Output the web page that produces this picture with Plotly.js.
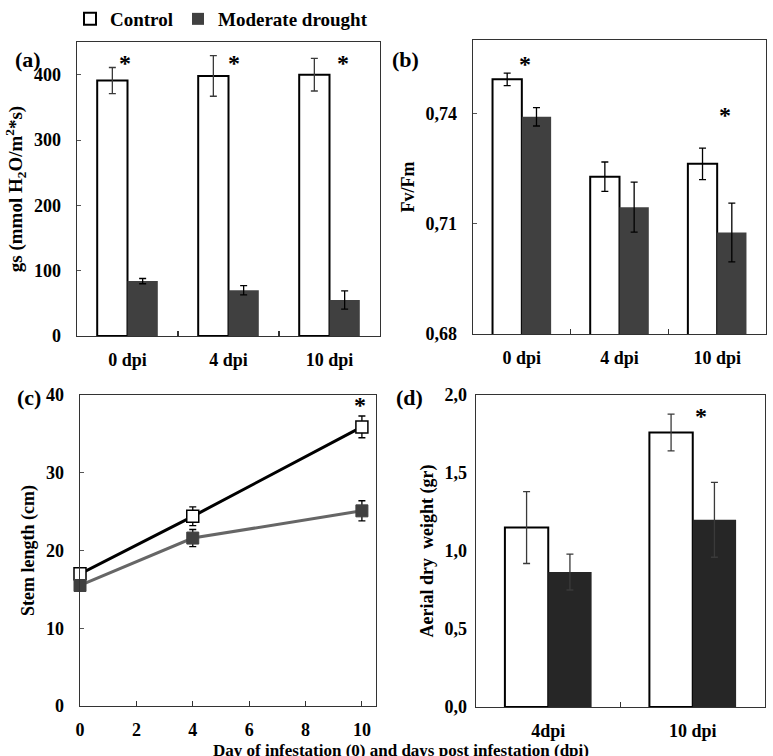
<!DOCTYPE html>
<html>
<head>
<meta charset="utf-8">
<script src="https://cdn.plot.ly/plotly-3.0.1.min.js"></script>
<style>html,body{margin:0;padding:0;background:#fff;}#chart{width:773px;height:756px;}</style>
</head>
<body>
<div id="chart"></div>
<script>
// ---- Data ----
const seriesNames = ['Control', 'Moderate drought'];

// (a) stomatal conductance
const catsA = ['0 dpi', '4 dpi', '10 dpi'];
const gsControl = [391, 398, 400];
const gsControlErr = [20, 31, 25];
const gsDrought = [84, 70, 55];
const gsDroughtErr = [4, 7, 14];
const starsAx = [-0.02, 1.05, 2.13];
const starsAy = [418, 418, 418];

// (b) Fv/Fm
const catsB = ['0 dpi', '4 dpi', '10 dpi'];
const fvControl = [0.7493, 0.7228, 0.7263];
const fvControlErr = [0.0017, 0.0040, 0.0043];
const fvDrought = [0.7391, 0.7145, 0.7076];
const fvDroughtErr = [0.0025, 0.0068, 0.0080];
const tickValsB = [0.68, 0.71, 0.74];
const tickTextB = ['0,68', '0,71', '0,74'];
const starsBx = [0.03, 2.08];
const starsBy = [0.7536, 0.7395];

// (c) stem length
const days = [0, 4, 10];
const stemControl = [17.0, 24.4, 35.9];
const stemControlErr = [0.5, 1.2, 1.4];
const stemDrought = [15.5, 21.6, 25.1];
const stemDroughtErr = [0.5, 1.1, 1.3];
const starsCx = [9.94];
const starsCy = [38.7];

// (d) aerial dry weight
const catsD = ['4dpi', '10 dpi'];
const dwControl = [1.15, 1.76];
const dwControlErr = [0.23, 0.118];
const dwDrought = [0.865, 1.20];
const dwDroughtErr = [0.115, 0.24];
const tickValsD = [0, 0.5, 1.0, 1.5, 2.0];
const tickTextD = ['0,0', '0,5', '1,0', '1,5', '2,0'];
const starsDx = [1.06];
const starsDy = [1.868];

// ---- Styles ----
const FONT = 'Liberation Serif, Times New Roman, serif';
const W = 773, H = 756;
const px = v => v / W;
const py = v => 1 - v / H;
const dark = '#404040';
const darker = '#262626';
const errCol = '#3a3a3a';

function errBar(arr, col) {
  return {type: 'data', array: arr, visible: true, color: col || errCol, thickness: 1.3, width: 3.5};
}

const traces = [
  // (a)
  {type: 'bar', x: catsA, y: gsControl, name: seriesNames[0], xaxis: 'x', yaxis: 'y',
   marker: {color: '#ffffff', line: {color: '#000', width: 2}}, error_y: errBar(gsControlErr), showlegend: true},
  {type: 'bar', x: catsA, y: gsDrought, name: seriesNames[1], xaxis: 'x', yaxis: 'y',
   marker: {color: dark, line: {color: dark, width: 0}}, error_y: errBar(gsDroughtErr, '#000'), showlegend: true},
  // (b)
  {type: 'bar', x: catsB, y: fvControl, name: seriesNames[0], xaxis: 'x2', yaxis: 'y2',
   marker: {color: '#ffffff', line: {color: '#000', width: 2}}, error_y: errBar(fvControlErr, '#000'), showlegend: false},
  {type: 'bar', x: catsB, y: fvDrought, name: seriesNames[1], xaxis: 'x2', yaxis: 'y2',
   marker: {color: dark, line: {color: dark, width: 0}}, error_y: errBar(fvDroughtErr, '#000'), showlegend: false},
  // (c)
  {type: 'scatter', mode: 'lines+markers', x: days, y: stemControl, name: seriesNames[0], xaxis: 'x3', yaxis: 'y3',
   line: {color: '#000', width: 3}, marker: {symbol: 'square', size: 12, color: '#fff', line: {color: '#000', width: 1.5}},
   error_y: errBar(stemControlErr, '#000'), cliponaxis: false, showlegend: false},
  {type: 'scatter', mode: 'lines+markers', x: days, y: stemDrought, name: seriesNames[1], xaxis: 'x3', yaxis: 'y3',
   line: {color: '#666666', width: 3}, marker: {symbol: 'square', size: 12, color: dark, line: {color: dark, width: 1}},
   error_y: errBar(stemDroughtErr, '#000'), cliponaxis: false, showlegend: false},
  // (d)
  {type: 'bar', x: catsD, y: dwControl, name: seriesNames[0], xaxis: 'x4', yaxis: 'y4',
   marker: {color: '#ffffff', line: {color: '#000', width: 2}}, error_y: errBar(dwControlErr), showlegend: false},
  {type: 'bar', x: catsD, y: dwDrought, name: seriesNames[1], xaxis: 'x4', yaxis: 'y4',
   marker: {color: darker, line: {color: darker, width: 0}}, error_y: errBar(dwDroughtErr), showlegend: false}
];

const tickFont = {family: FONT, size: 18, color: '#000', weight: 'bold'};
const titleFont = {family: FONT, size: 18, color: '#000', weight: 'bold'};
const axisBase = {showline: true, linecolor: '#333', linewidth: 1.3, mirror: true, showgrid: false, zeroline: false,
  tickfont: tickFont, fixedrange: true};

function catX(domain, n, anchor) {
  return Object.assign({}, axisBase, {domain: domain, anchor: anchor, type: 'category', range: [-0.5, n - 0.5],
    ticks: 'inside', tickson: 'boundaries', ticklen: 5, tickcolor: '#333', tickwidth: 1.3, ticklabelstandoff: 7});
}

function starAnn(xs, ys, xr, yr) {
  return xs.map((x, i) => ({x: x, y: ys[i], xref: xr, yref: yr, text: '*', showarrow: false,
    font: {family: FONT, size: 24, color: '#000', weight: 'bold'}, yanchor: 'middle', xanchor: 'center'}));
}

const layout = {
  width: W, height: H,
  margin: {l: 0, r: 0, t: 0, b: 0},
  paper_bgcolor: '#fff', plot_bgcolor: '#fff',
  barmode: 'group', bargap: 0.4, bargroupgap: 0,
  font: {family: FONT, color: '#000'},
  showlegend: true,
  legend: {orientation: 'h', x: px(70), y: py(0), xanchor: 'left', yanchor: 'top',
    font: {family: FONT, size: 19, color: '#000', weight: 'bold'}, itemwidth: 30, traceorder: 'normal'},
  xaxis: catX([px(77), px(380)], 3, 'y'),
  yaxis: Object.assign({}, axisBase, {domain: [py(336), py(42)], anchor: 'x', range: [0, 450], tickvals: [0, 100, 200, 300, 400],
    ticks: 'inside', ticklen: 4, tickcolor: '#555', ticklabelstandoff: 11,
    title: {text: 'gs (mmol H<sub>2</sub>O/m<sup>2</sup>*s)', font: {family: FONT, size: 19, color: '#000', weight: 'bold'}, standoff: 6}}),
  xaxis2: catX([px(473), px(766)], 3, 'y2'),
  yaxis2: Object.assign({}, axisBase, {domain: [py(334), py(40)], anchor: 'x2', range: [0.68, 0.76], tickvals: tickValsB, ticktext: tickTextB,
    ticks: 'inside', ticklen: 4, tickcolor: '#555', ticklabelstandoff: 11,
    title: {text: 'Fv/Fm', font: titleFont, standoff: 6}}),
  xaxis3: Object.assign({}, axisBase, {domain: [px(80), px(376)], anchor: 'y3', range: [0, 10.5], tickvals: [0, 2, 4, 6, 8, 10],
    ticks: 'inside', ticklen: 5, tickcolor: '#333', ticklabelstandoff: 7}),
  yaxis3: Object.assign({}, axisBase, {domain: [py(706), py(395)], anchor: 'x3', range: [0, 40], tickvals: [0, 10, 20, 30, 40],
    ticks: 'inside', ticklen: 4, tickcolor: '#555', ticklabelstandoff: 11,
    title: {text: 'Stem length (cm)', font: titleFont, standoff: 6}}),
  xaxis4: catX([px(476), px(765)], 2, 'y4'),
  yaxis4: Object.assign({}, axisBase, {domain: [py(707), py(395)], anchor: 'x4', range: [0, 2], tickvals: tickValsD, ticktext: tickTextD,
    ticks: '', ticklabelstandoff: 4,
    title: {text: 'Aerial dry  weight (gr)', font: titleFont, standoff: 6}}),
  annotations: [
    {x: px(13), y: py(45), xref: 'paper', yref: 'paper', text: '(a)', showarrow: false, font: {family: FONT, size: 22, weight: 'bold', color: '#000'}},
    {x: px(405), y: py(45), xref: 'paper', yref: 'paper', text: '(b)', showarrow: false, font: {family: FONT, size: 22, weight: 'bold', color: '#000'}},
    {x: px(15), y: py(397), xref: 'paper', yref: 'paper', text: '(c)', showarrow: false, font: {family: FONT, size: 22, weight: 'bold', color: '#000'}},
    {x: px(410), y: py(397), xref: 'paper', yref: 'paper', text: '(d)', showarrow: false, font: {family: FONT, size: 22, weight: 'bold', color: '#000'}},
    {x: px(401), y: py(739), xref: 'paper', yref: 'paper', yanchor: 'top', text: 'Day of infestation (0) and days post infestation (dpi)',
     showarrow: false, font: {family: FONT, size: 17, weight: 'bold', color: '#000'}}
  ].concat(starAnn(starsAx, starsAy, 'x', 'y'), starAnn(starsBx, starsBy, 'x2', 'y2'),
           starAnn(starsCx, starsCy, 'x3', 'y3'), starAnn(starsDx, starsDy, 'x4', 'y4'))
};

Plotly.newPlot('chart', traces, layout, {displayModeBar: false, staticPlot: true});
</script>
</body>
</html>
